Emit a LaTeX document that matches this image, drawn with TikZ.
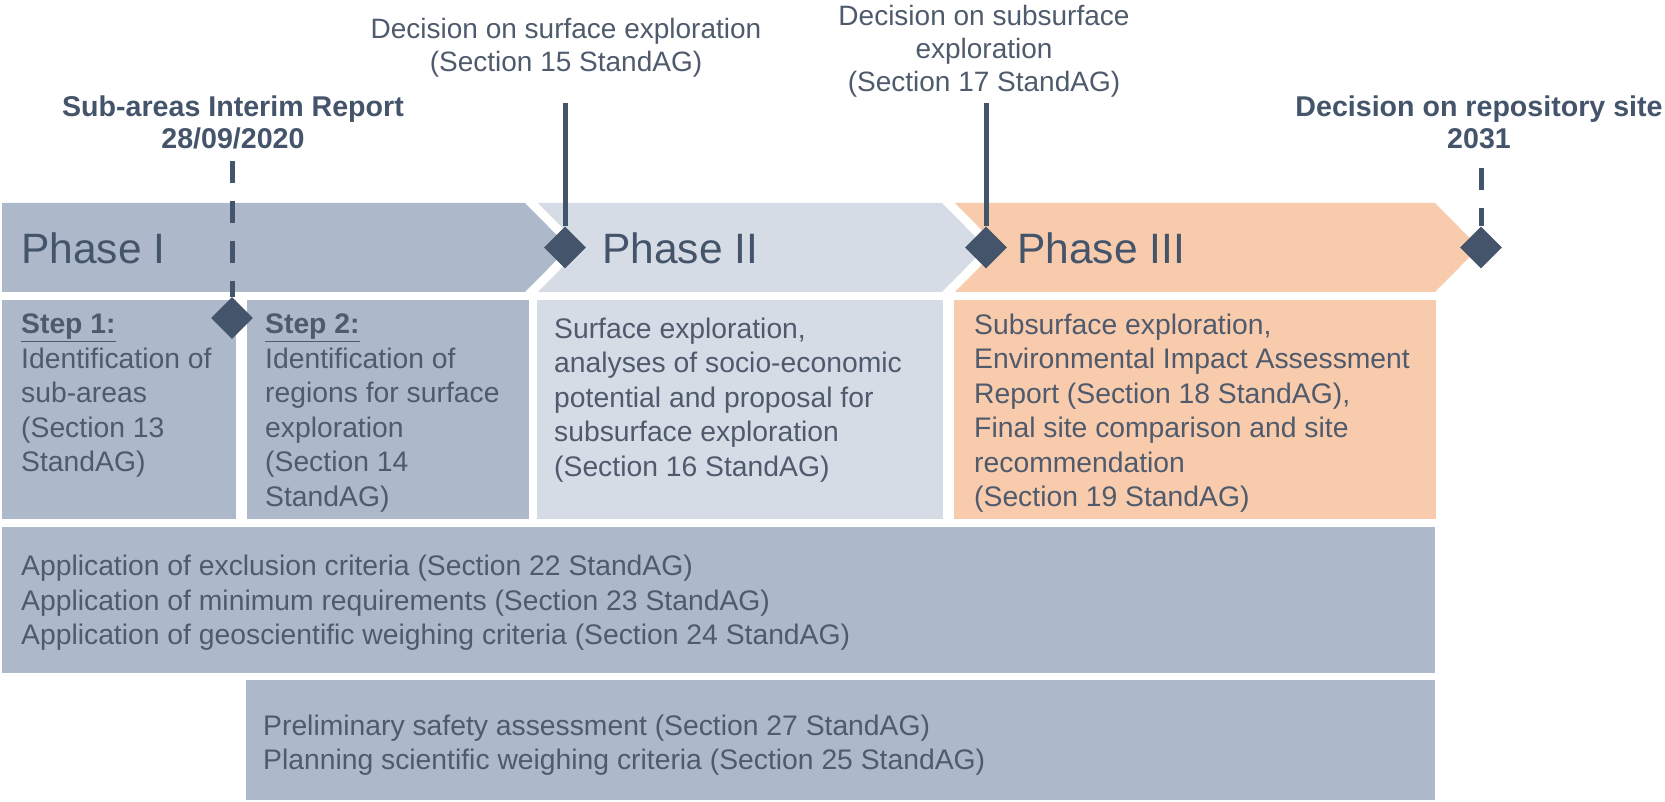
\documentclass[tikz,border=0pt]{standalone}
\usepackage{fontspec}
\setmainfont{Liberation Sans}
\usetikzlibrary{shapes.geometric}
\definecolor{slate}{HTML}{44546A}
\definecolor{bodytxt}{HTML}{4F5B6C}
\definecolor{phaseone}{HTML}{ADB9CA}
\definecolor{phasetwo}{HTML}{D6DCE5}
\definecolor{phasethree}{HTML}{F8CBAD}
\tikzset{
  bodytext/.style={text=bodytxt, font=\fontsize{28.3}{34.5}\selectfont, align=left, inner sep=0pt, anchor=west},
  phaselab/.style={text=slate, font=\fontsize{42.5}{42.5}\selectfont, inner sep=0pt, anchor=west},
  toplab/.style={text=bodytxt, font=\fontsize{28}{33}\selectfont, align=center, inner sep=0pt},
  boldlab/.style={text=slate, font=\fontsize{28.6}{32}\selectfont\bfseries, align=center, inner sep=0pt},
  milestone/.style={diamond, aspect=1, fill=slate, draw=none, minimum width=42pt, minimum height=42pt, inner sep=0pt},
  solidline/.style={draw=slate, line width=5pt},
  dashline/.style={draw=slate, line width=5pt, dash pattern=on 22pt off 18pt},
}
\begin{document}
\begin{tikzpicture}[x=1pt, y=-1pt]
\useasboundingbox (0,0) rectangle (1665,802);
% phase band
\fill[phaseone] (2,203) -- (525,203) -- (569,247.5) -- (525,292) -- (2,292) -- cycle;
\fill[phasetwo] (538,203) -- (942,203) -- (986,247.5) -- (942,292) -- (538,292) -- (582,247.5) -- cycle;
\fill[phasethree] (955,203) -- (1435,203) -- (1479,247.5) -- (1435,292) -- (955,292) -- (999,247.5) -- cycle;
% row of boxes
\fill[phaseone] (2,300) rectangle (236,519);
\fill[phaseone] (247,300) rectangle (529,519);
\fill[phasetwo] (537,300) rectangle (943,519);
\fill[phasethree] (954,300) rectangle (1436,519);
\fill[phaseone] (2,527) rectangle (1435,673);
\fill[phaseone] (246,680) rectangle (1435,800);
% phase labels
\node[phaselab] (p1) at (21,248) {Phase I};
\node[phaselab] (p2) at (602,248) {Phase II};
\node[phaselab] (p3) at (1017,248) {Phase III};
% box texts
\node[bodytext] (s1) at (21,396) {\underline{\textbf{Step 1:}}\\Identification of\\sub-areas\\(Section 13\\StandAG)};
\node[bodytext] (s2) at (265,413) {\underline{\textbf{Step 2:}}\\Identification of\\regions for surface\\exploration\\(Section 14\\StandAG)};
\node[bodytext] (b2) at (554,400) {Surface exploration,\\analyses of socio-economic\\potential and proposal for\\subsurface exploration\\(Section 16 StandAG)};
\node[bodytext] (b3) at (974,413) {Subsurface exploration,\\Environmental Impact Assessment\\Report (Section 18 StandAG),\\Final site comparison and site\\recommendation\\(Section 19 StandAG)};
\node[bodytext] (crit) at (21,603) {Application of exclusion criteria (Section 22 StandAG)\\Application of minimum requirements (Section 23 StandAG)\\Application of geoscientific weighing criteria (Section 24 StandAG)};
\node[bodytext] (safe) at (263,745) {Preliminary safety assessment (Section 27 StandAG)\\Planning scientific weighing criteria (Section 25 StandAG)};
% top labels
\node[boldlab] (l1) at (233,122) {Sub-areas Interim Report\\28/09/2020};
\node[toplab] (l2) at (566,48) {Decision on surface exploration\\(Section 15 StandAG)};
\node[toplab] (l3) at (984,51) {Decision on subsurface\\exploration\\(Section 17 StandAG)};
\node[boldlab] (l4) at (1479,122) {Decision on repository site\\2031};
% milestones
\node[milestone] (d1) at (232,318) {};
\node[milestone] (d2) at (565,247.5) {};
\node[milestone] (d3) at (986,247.5) {};
\node[milestone] (d4) at (1481,247.5) {};
\coordinate (t1) at (232,161);
\coordinate (t2) at (565,103);
\coordinate (t3) at (986,103);
\coordinate (t4) at (1481,168);
\draw[dashline] (t1) -- (d1.north);
\draw[solidline] (t2) -- (d2.north);
\draw[solidline] (t3) -- (d3.north);
\draw[dashline] (t4) -- (d4.north);
\end{tikzpicture}
\end{document}
